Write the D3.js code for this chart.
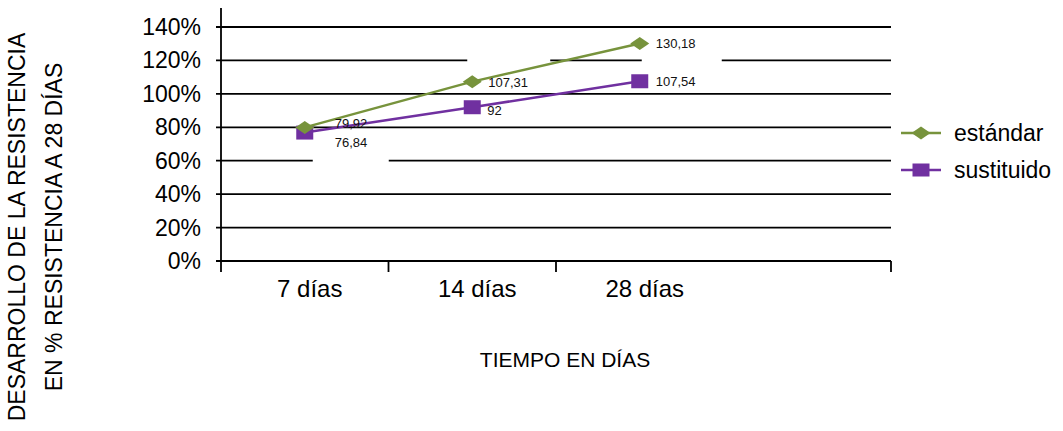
<!DOCTYPE html>
<html>
<head>
<meta charset="utf-8">
<script src="https://cdn.jsdelivr.net/npm/d3@7"></script>
<style>
  html, body { margin: 0; padding: 0; background: #fff; }
  svg { display: block; font-family: "Liberation Sans", Arial, sans-serif; }
</style>
</head>
<body>
<svg id="chart" width="1063" height="431"></svg>
<script>
// ---- data ----
const categories = ["7 días", "14 días", "28 días", ""];
const estandar = [79.92, 107.31, 130.18];
const sustituido = [76.84, 92, 107.54];
const estandarLabels = ["79,92", "107,31", "130,18"];
const sustituidoLabels = ["76,84", "92", "107,54"];
const yTicks = [0, 20, 40, 60, 80, 100, 120, 140];
const seriesNames = ["estándar", "sustituido"];
const yTitle = ["DESARROLLO DE LA RESISTENCIA", "EN % RESISTENCIA A 28 DÍAS"];
const xTitle = "TIEMPO EN DÍAS";

// ---- layout ----
const svg = d3.select("#chart");
const plotL = 221, plotR = 891, plotT = 27, plotB = 261;
const green = "#77933C", purple = "#7030A0";

const x = d3.scaleBand().domain(categories).range([plotL, plotR]).paddingInner(0).paddingOuter(0);
const y = d3.scaleLinear().domain([0, 140]).range([plotB, plotT]);
const cx = d => x(d) + x.bandwidth() / 2;

// gridlines
svg.append("g").selectAll("line").data(yTicks).join("line")
  .attr("x1", plotL - 5).attr("x2", plotR)
  .attr("y1", d => y(d)).attr("y2", d => y(d))
  .attr("stroke", "#000").attr("stroke-width", 1.8);

// y tick labels
svg.append("g").selectAll("text").data(yTicks).join("text")
  .attr("x", 201).attr("y", d => y(d) + 8)
  .attr("text-anchor", "end").attr("font-size", 23).attr("fill", "#000")
  .text(d => d + "%");

// y axis line
svg.append("line").attr("x1", plotL).attr("x2", plotL).attr("y1", 8).attr("y2", plotB + 11)
  .attr("stroke", "#000").attr("stroke-width", 1.8);

// x ticks (band boundaries)
const tickPos = [x(categories[1]), x(categories[2]), plotR];
svg.append("g").selectAll("line").data(tickPos).join("line")
  .attr("x1", d => d).attr("x2", d => d).attr("y1", plotB).attr("y2", plotB + 11)
  .attr("stroke", "#000").attr("stroke-width", 1.8);

// category labels
svg.append("g").selectAll("text").data(categories.filter(c => c)).join("text")
  .attr("x", d => cx(d) + 5).attr("y", 297)
  .attr("text-anchor", "middle").attr("font-size", 24).attr("fill", "#000")
  .text(d => d);

// white label boxes (mask gridlines as in the reference)
const boxes = [
  { cat: 1, v: estandar[1], dx: -5, dy: -23, w: 83, h: 32 },
  { cat: 2, v: estandar[2], dx: 2, dy: -14, w: 80, h: 36 },
  { cat: 0, v: sustituido[0], dx: 8, dy: 1.5, w: 76, h: 33 }
];
svg.append("g").selectAll("rect").data(boxes).join("rect")
  .attr("x", d => cx(categories[d.cat]) + d.dx)
  .attr("y", d => y(d.v) + d.dy)
  .attr("width", d => d.w).attr("height", d => d.h)
  .attr("fill", "#fff");

// series
const cats3 = categories.slice(0, 3);
const line = d3.line().x((d, i) => cx(cats3[i])).y(d => y(d));

function diamond(g, px, py, w, h, color) {
  g.append("path")
    .attr("d", `M${px - w / 2},${py} L${px},${py - h / 2} L${px + w / 2},${py} L${px},${py + h / 2} Z`)
    .attr("fill", color);
}
function square(g, px, py, w, h, color) {
  g.append("rect").attr("x", px - w / 2).attr("y", py - h / 2)
    .attr("width", w).attr("height", h).attr("fill", color);
}

const gS = svg.append("g");
gS.append("path").datum(sustituido).attr("d", line)
  .attr("fill", "none").attr("stroke", purple).attr("stroke-width", 2.5);
sustituido.forEach((v, i) => square(gS, cx(cats3[i]), y(v), 17, 14, purple));

const gE = svg.append("g");
gE.append("path").datum(estandar).attr("d", line)
  .attr("fill", "none").attr("stroke", green).attr("stroke-width", 2.5);
estandar.forEach((v, i) => diamond(gE, cx(cats3[i]), y(v), 19, 13, green));

// data labels
const estOff = [[30, 1], [16, 5], [16, 5]];
const susOff = [[30, 14], [15, 8], [16, 5]];
const gL = svg.append("g").attr("font-size", 13).attr("fill", "#111");
estandar.forEach((v, i) => {
  gL.append("text").attr("x", cx(cats3[i]) + estOff[i][0]).attr("y", y(v) + estOff[i][1]).text(estandarLabels[i]);
});
sustituido.forEach((v, i) => {
  gL.append("text").attr("x", cx(cats3[i]) + susOff[i][0]).attr("y", y(v) + susOff[i][1]).text(sustituidoLabels[i]);
});

// legend
const legend = svg.append("g");
const legY = [133, 170];
const legColors = [green, purple];
seriesNames.forEach((name, i) => {
  legend.append("line").attr("x1", 901).attr("x2", 941).attr("y1", legY[i]).attr("y2", legY[i])
    .attr("stroke", legColors[i]).attr("stroke-width", 2.5);
  if (i === 0) diamond(legend, 921, legY[i], 19, 13, green);
  else square(legend, 921, legY[i], 17, 13, purple);
  legend.append("text").attr("x", 954).attr("y", legY[i] + 8)
    .attr("font-size", 23).attr("fill", "#000").text(name);
});

// axis titles
const yt = svg.append("text").attr("transform", "translate(0,227) rotate(-90)")
  .attr("text-anchor", "middle").attr("font-size", 23).attr("fill", "#000");
yt.append("tspan").attr("x", 0).attr("y", 25).text(yTitle[0]);
yt.append("tspan").attr("x", 0).attr("y", 62).text(yTitle[1]);

svg.append("text").attr("x", 565).attr("y", 367).attr("text-anchor", "middle")
  .attr("font-size", 21).attr("fill", "#000").text(xTitle);
</script>
</body>
</html>
